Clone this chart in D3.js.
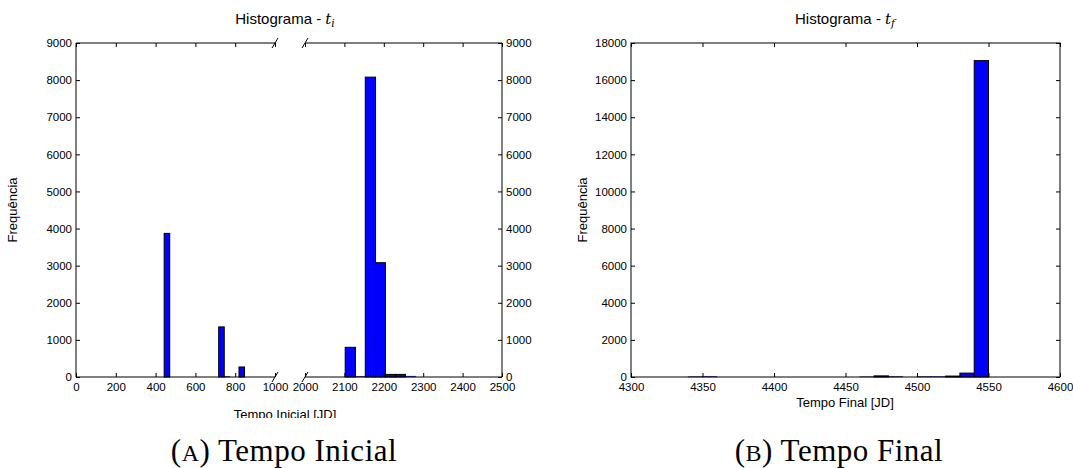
<!DOCTYPE html>
<html><head><meta charset="utf-8">
<script src="https://cdn.jsdelivr.net/npm/d3@7/dist/d3.min.js"></script>
<style>
body{margin:0;background:#fff;}
svg{display:block;}
.tick text{font-family:"Liberation Sans",Arial,sans-serif;font-size:11.5px;fill:#000;}
</style></head><body>
<svg id="c" width="1073" height="468"></svg>
<script>
// ---- data ----
const tiBinStart = [443, 717, 745, 819, 2102, 2128, 2153, 2179, 2204, 2230, 2255];
const tiBinEnd   = [471, 745, 773, 847, 2128, 2153, 2179, 2204, 2230, 2255, 2281];
const tiCounts   = [3870, 1350, 15, 270, 800, 15, 8080, 3080, 70, 70, 20];
const tiLeftTicks  = [0, 200, 400, 600, 800, 1000];
const tiRightTicks = [2000, 2100, 2200, 2300, 2400, 2500];
const tiYTicks = [0, 1000, 2000, 3000, 4000, 5000, 6000, 7000, 8000, 9000];

const tfBinStart = [4340, 4350, 4460, 4470, 4480, 4500, 4510, 4520, 4530, 4540];
const tfBinEnd   = [4350, 4360, 4470, 4480, 4490, 4510, 4520, 4530, 4540, 4550];
const tfCounts   = [20, 30, 15, 60, 30, 25, 25, 50, 210, 17050];
const tfXTicks = [4300, 4350, 4400, 4450, 4500, 4550, 4600];
const tfYTicks = [0, 2000, 4000, 6000, 8000, 10000, 12000, 14000, 16000, 18000];

const svg = d3.select("#c");
const sans = '"Liberation Sans",Arial,sans-serif';
const TOP = 43, BOT = 377;
const BLUE = "#0000ff";

function bars(g, x, y, starts, ends, counts, domain) {
  const idx = d3.range(starts.length).filter(i => starts[i] >= domain[0] && ends[i] <= domain[1]);
  g.selectAll(null).data(idx).join("rect")
    .attr("x", i => x(starts[i]))
    .attr("width", i => x(ends[i]) - x(starts[i]))
    .attr("y", i => y(counts[i]))
    .attr("height", i => y(0) - y(counts[i]))
    .attr("fill", BLUE).attr("stroke", "#000").attr("stroke-width", 1)
    .attr("stroke-opacity", i => counts[i] < 40 ? 0.35 : 1);
}
function xAxisInward(g, x, ticks, fmt, labels) {
  const b = g.append("g").attr("transform", `translate(0,${BOT})`)
    .call(d3.axisBottom(x).tickValues(ticks).tickSize(-4).tickPadding(6).tickFormat(labels ? fmt : ""));
  b.select(".domain").remove();
  b.selectAll(".tick line").attr("stroke", "#000");
  const t = g.append("g").attr("transform", `translate(0,${TOP})`)
    .call(d3.axisTop(x).tickValues(ticks).tickSize(-4).tickFormat(""));
  t.select(".domain").remove();
  t.selectAll(".tick line").attr("stroke", "#000");
}
function yAxisInward(g, y, ticks, xpos, side, labels) {
  const ax = side === "left" ? d3.axisLeft(y) : d3.axisRight(y);
  const a = g.append("g").attr("transform", `translate(${xpos},0)`)
    .call(ax.tickValues(ticks).tickSize(-4).tickPadding(4).tickFormat(labels ? d3.format("d") : ""));
  a.select(".domain").remove();
  a.selectAll(".tick line").attr("stroke", "#000");
  return a;
}
function line(x1, y1, x2, y2) {
  svg.append("line").attr("x1", x1).attr("y1", y1).attr("x2", x2).attr("y2", y2)
    .attr("stroke", "#000").attr("stroke-width", 1);
}
function title(cx, sub) {
  const t = svg.append("text").attr("x", cx).attr("y", 24).attr("text-anchor", "middle")
    .attr("font-family", sans).attr("font-size", 15);
  t.append("tspan").text("Histograma - ");
  t.append("tspan").attr("font-family", '"DejaVu Serif",serif').attr("font-style", "italic").text("t");
  t.append("tspan").attr("font-family", '"DejaVu Serif",serif').attr("font-style", "italic")
    .attr("font-size", 10.5).attr("dy", 3).text(sub);
}

// ---- Chart A (broken axis) ----
const xL = d3.scaleLinear().domain([0, 1000]).range([76, 275]);
const xR = d3.scaleLinear().domain([2000, 2500]).range([305, 502]);
const yA = d3.scaleLinear().domain([0, 9000]).range([BOT, TOP]);
const gA = svg.append("g");
bars(gA, xL, yA, tiBinStart, tiBinEnd, tiCounts, [0, 1000]);
bars(gA, xR, yA, tiBinStart, tiBinEnd, tiCounts, [2000, 2500]);
xAxisInward(gA, xL, tiLeftTicks, d3.format("d"), true);
xAxisInward(gA, xR, tiRightTicks, d3.format("d"), true);
yAxisInward(gA, yA, tiYTicks, xL.range()[0], "left", true);
yAxisInward(gA, yA, tiYTicks, xR.range()[1], "right", true);
// spines
line(xL.range()[0], TOP, xL.range()[1], TOP);
line(xL.range()[0], BOT, xL.range()[1], BOT);
line(xL.range()[0], TOP, xL.range()[0], BOT);
line(xR.range()[0], TOP, xR.range()[1], TOP);
line(xR.range()[0], BOT, xR.range()[1], BOT);
line(xR.range()[1], TOP, xR.range()[1], BOT);
// break marks
[[xL.range()[1], TOP], [xL.range()[1], BOT], [xR.range()[0], TOP], [xR.range()[0], BOT]]
  .forEach(([bx, by]) => line(bx - 3, by + 5, bx + 3, by - 5));
title(285, "i");
svg.append("text").attr("transform", "translate(17,210) rotate(-90)").attr("text-anchor", "middle")
  .attr("font-family", sans).attr("font-size", 13).text("Frequência");
svg.append("clipPath").attr("id", "clipA").append("rect").attr("x", 0).attr("y", 0).attr("width", 540).attr("height", 418);
svg.append("text").attr("x", 285).attr("y", 419).attr("text-anchor", "middle")
  .attr("clip-path", "url(#clipA)")
  .attr("font-family", sans).attr("font-size", 13).text("Tempo Inicial [JD]");

// ---- Chart B ----
const xB = d3.scaleLinear().domain([4300, 4600]).range([631, 1060]);
const yB = d3.scaleLinear().domain([0, 18000]).range([BOT, TOP]);
const gB = svg.append("g");
bars(gB, xB, yB, tfBinStart, tfBinEnd, tfCounts, [4300, 4600]);
xAxisInward(gB, xB, tfXTicks, d3.format("d"), true);
yAxisInward(gB, yB, tfYTicks, xB.range()[0], "left", true);
yAxisInward(gB, yB, tfYTicks, xB.range()[1], "right", false);
svg.append("rect").attr("x", 631).attr("y", TOP).attr("width", 1060 - 631).attr("height", BOT - TOP)
  .attr("fill", "none").attr("stroke", "#000").attr("stroke-width", 1);
title(845, "f");
svg.append("text").attr("transform", "translate(587,210) rotate(-90)").attr("text-anchor", "middle")
  .attr("font-family", sans).attr("font-size", 13).text("Frequência");
svg.append("text").attr("x", 845).attr("y", 407).attr("text-anchor", "middle")
  .attr("font-family", sans).attr("font-size", 13).text("Tempo Final [JD]");

// ---- captions ----
function caption(cx, letter, rest) {
  const t = svg.append("text").attr("x", cx).attr("y", 461).attr("text-anchor", "middle")
    .attr("font-family", '"Liberation Serif","Times New Roman",serif').attr("font-size", 31)
    .attr("letter-spacing", 0.5);
  t.append("tspan").text("(");
  t.append("tspan").attr("font-size", 24).text(letter);
  t.append("tspan").text(") " + rest);
}
caption(284, "A", "Tempo Inicial");
caption(839, "B", "Tempo Final");
</script>
</body></html>
